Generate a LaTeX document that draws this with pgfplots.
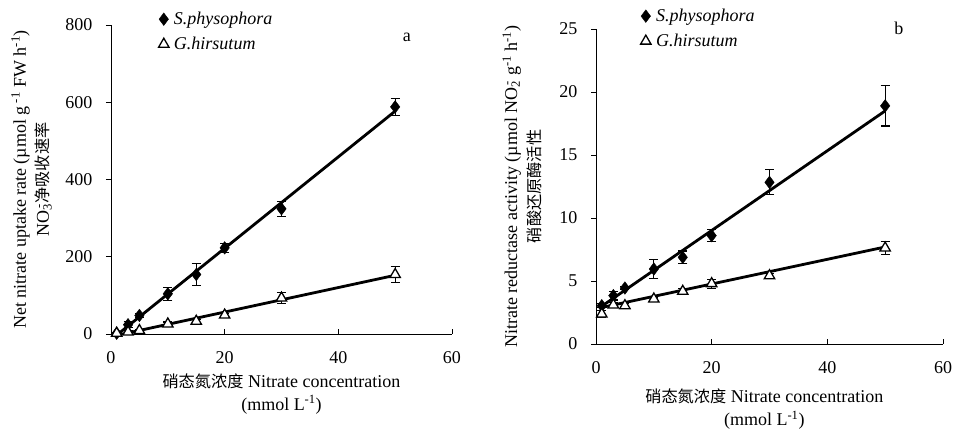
\documentclass[border=0pt]{standalone}
\usepackage{pgfplots}
\pgfplotsset{compat=1.18}
\usepackage{pgfplotstable}
\usepackage{fontspec}
\setmainfont{Liberation Serif}
\newfontfamily\cjk{Noto Sans CJK SC}[Scale=0.9]

\pgfplotstableread{
x y e
1 2 3
3 24 8
5 48 5
10 104 17
15 154 29
20 223 11
30 324 20
50 588 22
}\SpA
\pgfplotstableread{
x y e
1 2 2
3 5 3
5 9 3
10 26 5
15 33 4
20 49 4
30 93 15
50 154 20
}\GhA
\pgfplotstableread{
x y e
1 3.04 0.15
3 3.84 0.35
5 4.44 0.15
10 5.95 0.77
15 6.88 0.5
20 8.6 0.5
30 12.83 1.0
50 18.9 1.6
}\SpB
\pgfplotstableread{
x y e
1 2.38 0.25
3 3.1 0.2
5 3.04 0.15
10 3.57 0.15
15 4.18 0.2
20 4.79 0.36
30 5.42 0.2
50 7.62 0.5
}\GhB

\pgfplotsset{
  panel/.style={
    scale only axis,
    enlargelimits=false,
    axis x line=bottom, axis y line=left,
    axis line style={-, line width=0.9pt},
    every outer x axis line/.append style={-},
    every outer y axis line/.append style={-},
    xmin=0, xmax=60, xtick={0,20,40,60},
    tick align=outside,
    major tick length=5pt,
    tick style={line width=0.9pt, black},
    x tick style={yshift=5pt},
    /pgf/number format/assume math mode=true,
    tick label style={font=\fontsize{18}{22}\selectfont},
    xticklabel style={yshift=-9pt},
    yticklabel style={xshift=-10pt},
    label style={font=\fontsize{18}{23}\selectfont, align=center},
    clip mode=individual,
    legend cell align=left,
    legend style={draw=none, fill=none, inner sep=0pt, anchor=north west,
      font=\fontsize{18}{22}\selectfont\itshape, row sep=7pt,
      /tikz/every odd column/.append style={column sep=3pt}},
    legend image code/.code={\draw[##1] plot coordinates {(5pt,0pt)};},
  },
  sp/.style={only marks, mark=diamond*, mark size=6.3pt, black,
    mark options={fill=black, solid},
    error bars/.cd, y dir=both, y explicit,
    error bar style={line width=1.1pt, black},
    error mark options={rotate=90, mark size=4.5pt, line width=1.1pt, black}},
  gh/.style={only marks, mark=triangle*, mark size=6pt, black,
    mark options={fill=white, line width=1.3pt, solid},
    error bars/.cd, y dir=both, y explicit,
    error bar style={line width=1.1pt, black},
    error mark options={rotate=90, mark size=4.5pt, line width=1.1pt, black}},
  trend/.style={line width=2.8pt, black, no marks, forget plot},
}

\begin{document}
\begin{tikzpicture}
\useasboundingbox (0pt,0pt) rectangle (954pt,430pt);

% Panel a
\begin{axis}[panel,
  at={(111pt,96pt)}, anchor=south west,
  width=341pt, height=309pt,
  ymin=0, ymax=800, ytick={0,200,400,600,800},
  xlabel={{\cjk 硝态氮浓度} Nitrate concentration\\(mmol L\textsuperscript{-1})},
  xlabel style={at={(axis description cs:0.5,-0.193)}, anchor=center},
  ylabel={Net nitrate uptake rate (µmol g\textsuperscript{ -1} FW h\textsuperscript{-1})\\NO\textsubscript{3}\llap{\textsuperscript{-}}{\cjk 净吸收速率}},
  ylabel style={at={(axis description cs:-0.233,0.5)}, anchor=center},
  legend style={at={(axis description cs:0.139,1.0485)}},
]
\addplot[trend] coordinates {(1,-3) (50,577)};
\addplot[trend] coordinates {(1,-3.5) (50,152)};
\addplot[sp] table[x=x, y=y, y error=e] {\SpA};
\addlegendentry{S.physophora}
\addplot[gh] table[x=x, y=y, y error=e] {\GhA};
\addlegendentry{G.hirsutum}
\node[font=\fontsize{18}{22}\selectfont] at (axis description cs:0.868,0.961) {a};
\end{axis}

% Panel b
\begin{axis}[panel,
  at={(596pt,86pt)}, anchor=south west,
  width=347pt, height=315pt,
  ymin=0, ymax=25, ytick={0,5,10,15,20,25},
  xlabel={{\cjk 硝态氮浓度} Nitrate concentration\\(mmol L\textsuperscript{-1})},
  xlabel style={at={(axis description cs:0.485,-0.208)}, anchor=center},
  ylabel={Nitrate reductase activity (µmol NO\textsubscript{2}\llap{\textsuperscript{-}} g\textsuperscript{-1} h\textsuperscript{-1})\\{\cjk 硝酸还原酶活性}},
  ylabel style={at={(axis description cs:-0.213,0.5)}, anchor=center},
  legend style={at={(axis description cs:0.128,1.07)}},
]
\addplot[trend] coordinates {(1,3.0) (50,18.5)};
\addplot[trend] coordinates {(1,2.9) (50,7.7)};
\addplot[sp] table[x=x, y=y, y error=e] {\SpB};
\addlegendentry{S.physophora}
\addplot[gh] table[x=x, y=y, y error=e] {\GhB};
\addlegendentry{G.hirsutum}
\node[font=\fontsize{18}{22}\selectfont] at (axis description cs:0.873,1.003) {b};
\end{axis}
\end{tikzpicture}
\end{document}
